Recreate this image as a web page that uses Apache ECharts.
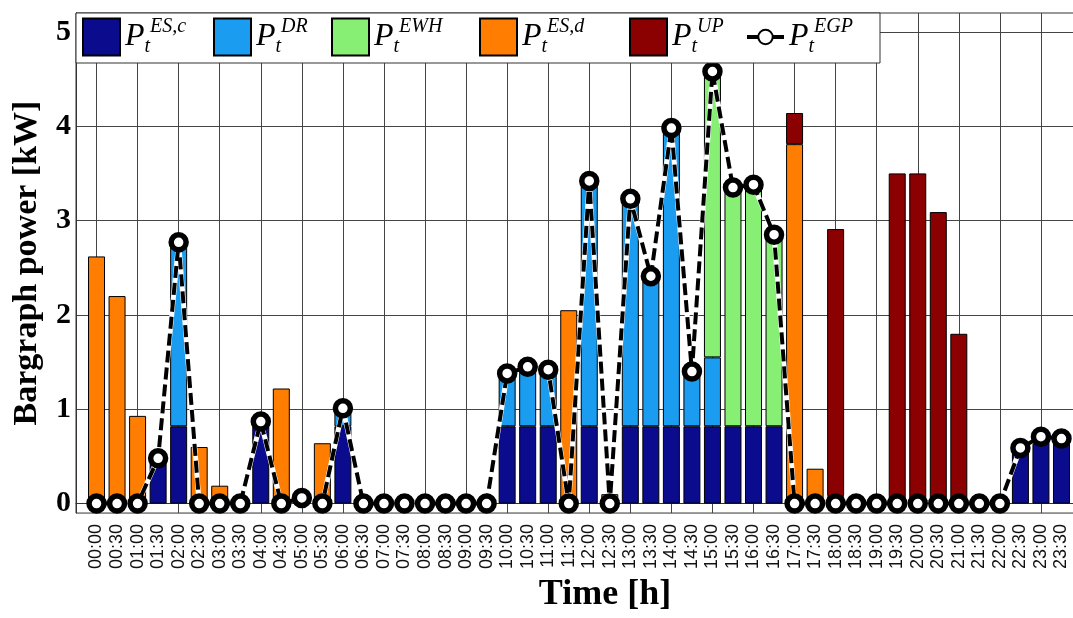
<!DOCTYPE html>
<html>
<head>
<meta charset="utf-8">
<script src="https://cdn.jsdelivr.net/npm/echarts@6/dist/echarts.min.js"></script>
<style>
    html, body { margin: 0; padding: 0; background: #fff; overflow: hidden; }
    /* the original figure is cut off on the right, so the canvas runs past the window */
    #chart { width: 1100px; height: 618px; }
</style>
</head>
<body>
<div id="chart"></div>
<script>
// time slots (30 min)
const timeLabels = [
    '00:00', '00:30', '01:00', '01:30', '02:00', '02:30', '03:00', '03:30',
    '04:00', '04:30', '05:00', '05:30', '06:00', '06:30', '07:00', '07:30',
    '08:00', '08:30', '09:00', '09:30', '10:00', '10:30', '11:00', '11:30',
    '12:00', '12:30', '13:00', '13:30', '14:00', '14:30', '15:00', '15:30',
    '16:00', '16:30', '17:00', '17:30', '18:00', '18:30', '19:00', '19:30',
    '20:00', '20:30', '21:00', '21:30', '22:00', '22:30', '23:00', '23:30'
]
const yTicks = [0, 1, 2, 3, 4, 5]

// stacked bars [kW]
const esCharge = [
    0, 0, 0, 0.48, 0.82, 0, 0, 0, 0.82, 0, 0.06, 0, 0.82, 0, 0, 0,
    0, 0, 0, 0, 0.82, 0.82, 0.82, 0, 0.82, 0, 0.82, 0.82, 0.82, 0.82, 0.82, 0.82,
    0.82, 0.82, 0, 0, 0, 0, 0, 0, 0, 0, 0, 0, 0, 0.59, 0.71, 0.69
]
const demandResp = [
    0, 0, 0, 0, 1.95, 0, 0, 0, 0.05, 0, 0, 0, 0.19, 0, 0, 0,
    0, 0, 0, 0, 0.56, 0.63, 0.60, 0, 2.60, 0, 2.41, 1.59, 3.16, 0.58, 0.73, 0,
    0, 0, 0, 0, 0, 0, 0, 0, 0, 0, 0, 0, 0, 0, 0, 0
]
const waterHeater = [
    0, 0, 0, 0, 0, 0, 0, 0, 0, 0, 0, 0, 0, 0, 0, 0,
    0, 0, 0, 0, 0, 0, 0, 0, 0, 0, 0, 0, 0, 0, 3.03, 2.53,
    2.56, 2.03, 0, 0, 0, 0, 0, 0, 0, 0, 0, 0, 0, 0, 0, 0
]
const esDischarge = [
    2.62, 2.20, 0.93, 0, 0, 0.60, 0.19, 0, 0, 1.22, 0, 0.64, 0, 0, 0, 0,
    0, 0, 0, 0, 0, 0, 0, 2.05, 0, 0.10, 0, 0, 0, 0, 0, 0,
    0, 0, 3.81, 0.37, 0.08, 0, 0, 0, 0, 0, 0, 0, 0, 0, 0, 0
]
const pvUsed = [
    0, 0, 0, 0, 0, 0, 0, 0, 0, 0, 0, 0, 0, 0, 0, 0,
    0, 0, 0, 0, 0, 0, 0, 0, 0, 0, 0, 0, 0, 0, 0, 0,
    0, 0, 0.33, 0, 2.83, 0, 0, 3.50, 3.50, 3.09, 1.80, 0, 0, 0, 0, 0
]
// grid power (line)
const gridPower = [
    0, 0, 0, 0.48, 2.77, 0, 0, 0, 0.87, 0, 0.06, 0, 1.01, 0, 0, 0,
    0, 0, 0, 0, 1.38, 1.45, 1.42, 0, 3.42, 0, 3.23, 2.41, 3.98, 1.40, 4.58, 3.35,
    3.38, 2.85, 0, 0, 0, 0, 0, 0, 0, 0, 0, 0, 0, 0.59, 0.71, 0.69
]

const legendNames = ['ES,c', 'DR', 'EWH', 'ES,d', 'UP', 'EGP']
const legendLeft = [82, 213, 331, 479, 629, 745]

const serif = '"Liberation Serif", "Times New Roman", serif'
const sans = '"Liberation Sans", Arial, sans-serif'

// one empty slot on each side, like the original x limits
const xCats = [''].concat(timeLabels, [''])
const pad = (arr, hideZero) => ['-'].concat(arr.map(v => (hideZero && v === 0) ? '-' : v), ['-'])

const barSeries = (name, values, color) => ({
    name,
    type: 'bar',
    stack: 'power',
    barWidth: 17,
    data: pad(values, true),
    itemStyle: { color, borderColor: '#000', borderWidth: 1 },
    z: 2
})

const chart = echarts.init(document.getElementById('chart'))
chart.setOption({
    animation: false,
    grid: { left: 76, top: 13, width: 1006, height: 515, show: true, borderColor: '#333', borderWidth: 1 },
    graphic: [{
        type: 'rect',
        z: 5,
        shape: { x: 76, y: 13, width: 804, height: 50 },
        style: { fill: '#fff', stroke: '#333', lineWidth: 1 }
    }],
    legend: legendNames.map((name, i) => ({
        data: [name],
        left: legendLeft[i],
        top: 17,
        padding: 0,
        z: 6,
        selectedMode: false,
        icon: name === 'EGP' ? undefined : 'rect',
        itemWidth: 37,
        itemHeight: name === 'EGP' ? 18 : 37,
        lineStyle: { type: 'solid', width: 4 },
        formatter: n => '{p|P}{sub|t}{sup|' + n + '}',
        textStyle: {
            rich: {
                p: { fontFamily: serif, fontStyle: 'italic', fontSize: 32, lineHeight: 40, color: '#000' },
                sub: { fontFamily: serif, fontStyle: 'italic', fontSize: 20, lineHeight: 22, verticalAlign: 'bottom', color: '#000' },
                sup: { fontFamily: serif, fontStyle: 'italic', fontSize: 20, lineHeight: 22, verticalAlign: 'top', color: '#000' }
            }
        }
    })),
    xAxis: {
        type: 'category',
        data: xCats,
        boundaryGap: false,
        name: 'Time [h]',
        nameLocation: 'middle',
        nameGap: 57,
        nameTextStyle: { fontFamily: serif, fontWeight: 'bold', fontSize: 36, color: '#000', padding: [0, 0, 0, 52] },
        axisLine: { lineStyle: { color: '#333', width: 1 } },
        axisTick: { show: false },
        axisLabel: { rotate: 90, interval: 0, margin: 11, fontFamily: sans, fontSize: 18, color: '#111' },
        splitLine: { show: true, interval: i => i % 2 === 1, lineStyle: { color: '#444', width: 1 } }
    },
    yAxis: {
        type: 'value',
        min: -0.1,
        max: 5.2,
        name: 'Bargraph power [kW]',
        nameLocation: 'middle',
        nameGap: 32,
        nameTextStyle: { fontFamily: serif, fontWeight: 'bold', fontSize: 34, color: '#000' },
        axisLine: { show: true, lineStyle: { color: '#333', width: 1 } },
        axisTick: { show: false, customValues: yTicks },
        axisLabel: { customValues: yTicks, margin: 5, fontFamily: serif, fontWeight: 'bold', fontSize: 30, color: '#000' },
        splitLine: { show: true, lineStyle: { color: '#444', width: 1 } }
    },
    series: [
        barSeries('ES,c', esCharge, '#0b0b8e'),
        barSeries('DR', demandResp, '#1a9cf0'),
        barSeries('EWH', waterHeater, '#86ef74'),
        barSeries('ES,d', esDischarge, '#ff7d00'),
        barSeries('UP', pvUsed, '#8b0000'),
        {
            // white underlay so the dash gaps read white
            name: 'EGP-under',
            type: 'line',
            data: pad(gridPower, false),
            symbol: 'none',
            silent: true,
            lineStyle: { color: '#fff', width: 5 },
            z: 3
        },
        {
            name: 'EGP',
            type: 'line',
            data: pad(gridPower, false),
            symbol: 'circle',
            symbolSize: 15,
            lineStyle: { color: '#000', width: 4, type: [12, 5] },
            itemStyle: { color: '#fff', borderColor: '#000', borderWidth: 5.5 },
            z: 4
        }
    ]
})
</script>
</body>
</html>
